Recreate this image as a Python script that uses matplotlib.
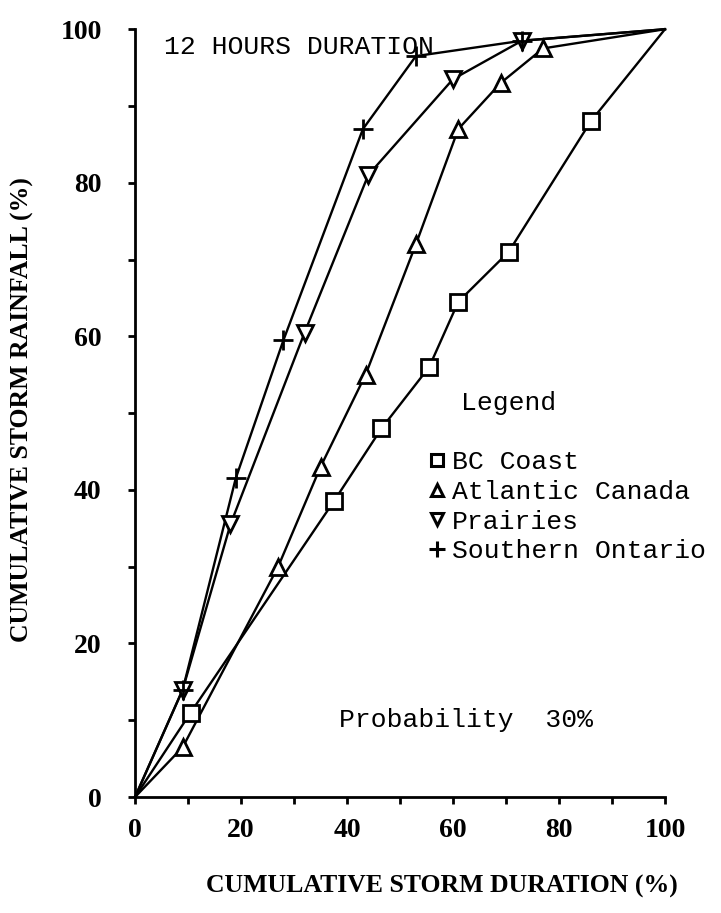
import numpy as np
import matplotlib.pyplot as plt
from matplotlib.lines import Line2D

# cumulative storm duration (%) / cumulative storm rainfall (%)
bc_x = [0, 10.5, 37.5, 46.5, 55.5, 61, 70.5, 86, 100]
bc_y = [0, 11, 38.5, 48, 56, 64.5, 71, 88, 100]

atl_x = [0, 9, 27, 35, 43.5, 53, 61, 69, 77, 100]
atl_y = [0, 6.5, 30, 43, 55, 72, 87, 93, 97.5, 100]

pra_x = [0, 9, 18, 32, 44, 60, 73, 100]
pra_y = [0, 14, 35.5, 60.5, 81, 93.5, 98.5, 100]

ont_x = [0, 9, 19, 28, 43, 53, 73, 100]
ont_y = [0, 14, 41.5, 59.5, 87, 96.5, 98.5, 100]

series_names = ['BC Coast', 'Atlantic Canada', 'Prairies', 'Southern Ontario']
series_markers = ['s', '^', 'v', '+']

tick_pos = np.arange(0, 101, 10)
tick_lab = ['0', '', '20', '', '40', '', '60', '', '80', '', '100']

mono = ['Liberation Mono', 'DejaVu Sans Mono']
serif = ['Liberation Serif', 'DejaVu Serif']


def plot_curves(ax):
    data = [(bc_x, bc_y), (atl_x, atl_y), (pra_x, pra_y), (ont_x, ont_y)]
    for (x, y), m in zip(data, series_markers):
        x = np.array(x)
        y = np.array(y)
        ax.plot(x, y, color='black', lw=1.7, clip_on=False, zorder=2)
        # no marker at the origin or the common end point
        ax.plot(x[1:-1], y[1:-1], ls='none', marker=m, ms=11 if m != '+' else 14,
                mfc='white' if m != '+' else 'black', mec='black', mew=2.0,
                clip_on=False, zorder=3)


def style_axes(ax):
    ax.set_xlim(0, 100)
    ax.set_ylim(0, 100)
    for s in ['top', 'right']:
        ax.spines[s].set_visible(False)
    for s in ['left', 'bottom']:
        ax.spines[s].set_linewidth(2.0)
    ax.set_xticks(tick_pos)
    ax.set_yticks(tick_pos)
    ax.set_xticklabels(tick_lab, family=serif, fontsize=20, fontweight='bold')
    ax.set_yticklabels(tick_lab, family=serif, fontsize=20, fontweight='bold')
    ax.tick_params(axis='both', direction='out', length=5, width=2)
    ax.tick_params(axis='y', pad=19)
    ax.tick_params(axis='x', pad=10)
    ax.set_xlabel('CUMULATIVE STORM DURATION (%)', family=serif, fontsize=18.5,
                  fontweight='bold')
    ax.xaxis.set_label_coords(0.579, -0.102)
    ax.set_ylabel('CUMULATIVE STORM RAINFALL (%)', family=serif, fontsize=18.5,
                  fontweight='bold')
    ax.yaxis.set_label_coords(-0.19, 0.505)


def add_text(ax):
    ax.text(5.5, 97.7, '12 HOURS DURATION', family=mono, fontsize=19,
            va='center', ha='left')
    ax.text(38.5, 10, 'Probability  30%', family=mono, fontsize=19,
            va='center', ha='left')
    ax.text(61.6, 51.3, 'Legend', family=mono, fontsize=19,
            va='center', ha='left')
    handles = []
    for m in series_markers:
        handles.append(Line2D([], [], ls='none', marker=m, color='black',
                              ms=8 if m != '+' else 11, mfc='white', mew=2.2))
    ax.legend(handles, series_names, loc='upper left',
              bbox_to_anchor=(0.555, 0.452), frameon=False,
              prop={'family': mono, 'size': 19}, handlelength=0.6,
              handletextpad=0.25, labelspacing=0.22, borderaxespad=0,
              borderpad=0)


fig = plt.figure(figsize=(7.21, 9.13), dpi=100)
ax = fig.add_axes([0.1873, 0.127, 0.735, 0.841])
plot_curves(ax)
style_axes(ax)
add_text(ax)
fig.savefig('out.png', dpi=100)
